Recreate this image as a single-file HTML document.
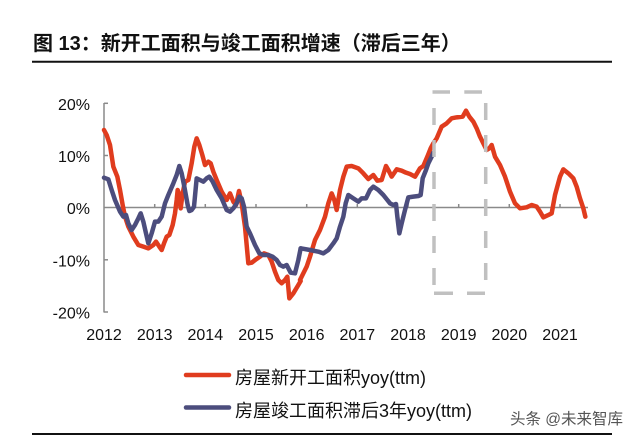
<!DOCTYPE html>
<html><head><meta charset="utf-8"><style>
html,body{margin:0;padding:0;background:#fff;}
svg{display:block;}
text{font-family:"Liberation Sans","Noto Sans CJK SC",sans-serif;}
</style></head><body>
<svg width="640" height="436" viewBox="0 0 640 436" xmlns="http://www.w3.org/2000/svg">
<rect width="640" height="436" fill="#fff"/>
<text x="33" y="50" font-size="20" font-weight="bold" fill="#111">图 13：新开工面积与竣工面积增速（滞后三年）</text>
<line x1="32" y1="61.7" x2="612" y2="61.7" stroke="#111" stroke-width="2"/>

<!-- axes -->
<g stroke="#8a8a8a" stroke-width="1.5" fill="none">
<line x1="104" y1="103" x2="104" y2="312.5"/>
<line x1="104" y1="103.3" x2="108" y2="103.3"/>
<line x1="104" y1="155.5" x2="108" y2="155.5"/>
<line x1="104" y1="259.8" x2="108" y2="259.8"/>
<line x1="104" y1="312" x2="108" y2="312"/>
<line x1="104" y1="207.5" x2="588" y2="207.5"/>
<line x1="154.7" y1="204" x2="154.7" y2="207.5"/>
<line x1="205.3" y1="204" x2="205.3" y2="207.5"/>
<line x1="256" y1="204" x2="256" y2="207.5"/>
<line x1="306.7" y1="204" x2="306.7" y2="207.5"/>
<line x1="357.3" y1="204" x2="357.3" y2="207.5"/>
<line x1="408" y1="204" x2="408" y2="207.5"/>
<line x1="458.7" y1="204" x2="458.7" y2="207.5"/>
<line x1="509.3" y1="204" x2="509.3" y2="207.5"/>
<line x1="560" y1="204" x2="560" y2="207.5"/>
</g>
<g font-size="16" fill="#111" text-anchor="end">
<text x="90" y="110">20%</text>
<text x="90" y="162">10%</text>
<text x="90" y="214">0%</text>
<text x="90" y="266.5">-10%</text>
<text x="90" y="318.5">-20%</text>
</g>
<g font-size="16" fill="#111" text-anchor="middle">
<text x="104" y="340">2012</text>
<text x="154.7" y="340">2013</text>
<text x="205.3" y="340">2014</text>
<text x="256" y="340">2015</text>
<text x="306.7" y="340">2016</text>
<text x="357.3" y="340">2017</text>
<text x="408" y="340">2018</text>
<text x="458.7" y="340">2019</text>
<text x="509.3" y="340">2020</text>
<text x="560" y="340">2021</text>
</g>

<!-- red series -->
<g fill="none" stroke="#e03c1e" stroke-width="13.5" stroke-linejoin="round" stroke-linecap="round">
<polyline transform="translate(40,80) scale(0.333333)" points="192,150 200,165 210,195 220,260 232,290 240,330 248,375 255,410 265,440 280,470 295,495 310,500 325,505 340,495 348,485 358,500 365,510 372,490 380,470 388,465 398,435 405,400 410,360 413,330 418,345 422,385 428,340 435,305 445,300 455,250 463,200 470,175 478,195 487,225 495,255 505,245 512,250 520,275 530,300 545,335 560,360 570,340 580,365 588,375 597,333 605,370 615,440 625,550 635,548 648,538 660,530 672,520 685,525 695,545 705,575 715,600 725,610 735,600 742,590 748,655 760,640 775,615 782,603"/>
<polyline transform="translate(300,80) scale(0.333333)" points="0,600 20,560 30,530 45,480 60,450 75,410 85,370 95,340 103,360 110,390 120,330 130,290 140,260 155,258 175,265 190,280 205,297 220,285 232,302 245,300 258,258 265,270 275,290 290,268 305,272 318,278 330,282 345,290 360,265 370,258 382,230 392,205 400,190 410,175 425,140 440,130 455,115 470,112 488,110 498,92 508,110 520,125 530,145 540,170 550,190 560,210 568,205 575,195 585,230 600,255 615,290 630,335 645,370 660,385 680,382 695,375 710,380 720,395 730,412 745,405 755,400 765,345 780,290 790,268 805,280 820,295 830,320 840,355 850,385 856,410"/>
</g>
<!-- blue series -->
<g fill="none" stroke="#4c4d7d" stroke-width="13.5" stroke-linejoin="round" stroke-linecap="round">
<polyline transform="translate(40,80) scale(0.333333)" points="192,293 205,298 215,330 225,360 240,395 250,410 258,405 265,430 275,450 285,435 295,415 302,400 310,425 318,460 325,490 335,460 345,425 355,425 365,410 375,370 385,345 400,310 410,285 418,258 425,280 433,320 443,375 448,393 455,390 462,380 470,295 480,300 490,305 500,295 508,290 518,305 530,330 545,355 560,390 570,395 580,385 590,370 598,350 605,355 612,380 620,440 630,460 645,495 658,520 670,525 685,525 698,530 710,540 720,555 730,560 740,555 752,578 765,580 775,540 782,505"/>
<polyline transform="translate(300,80) scale(0.333333)" points="2,505 30,510 55,515 70,520 85,510 100,490 110,475 120,440 130,410 137,370 145,345 160,355 175,365 185,355 198,355 210,330 220,320 235,330 250,345 262,360 270,370 280,375 288,372 292,410 298,460 305,430 315,390 325,352 340,350 355,348 362,345 368,295 378,270 385,250 395,230 400,218"/>
</g>

<!-- dashed box -->
<g stroke="#c0c0c0" stroke-width="3.5" fill="none">
<line x1="432.5" y1="92" x2="450" y2="92"/>
<line x1="464.3" y1="92" x2="482" y2="92"/>
<line x1="434" y1="108" x2="434" y2="290" stroke-dasharray="17 15"/>
<line x1="485.7" y1="103" x2="485.7" y2="285" stroke-dasharray="17 15"/>
<line x1="434" y1="293.3" x2="453" y2="293.3"/>
<line x1="467" y1="293.3" x2="485" y2="293.3"/>
</g>

<!-- legend -->
<line x1="186" y1="375" x2="229" y2="375" stroke="#e03c1e" stroke-width="4.5" stroke-linecap="round"/>
<text x="235" y="384" font-size="18" fill="#111">房屋新开工面积yoy(ttm)</text>
<line x1="186" y1="407.5" x2="229" y2="407.5" stroke="#4c4d7d" stroke-width="4.5" stroke-linecap="round"/>
<text x="235" y="417" font-size="18" fill="#111">房屋竣工面积滞后3年yoy(ttm)</text>
<text x="510" y="424" font-size="15.5" fill="#555">头条 @未来智库</text>

<line x1="32" y1="434" x2="612" y2="434" stroke="#111" stroke-width="2"/>
</svg>
</body></html>
